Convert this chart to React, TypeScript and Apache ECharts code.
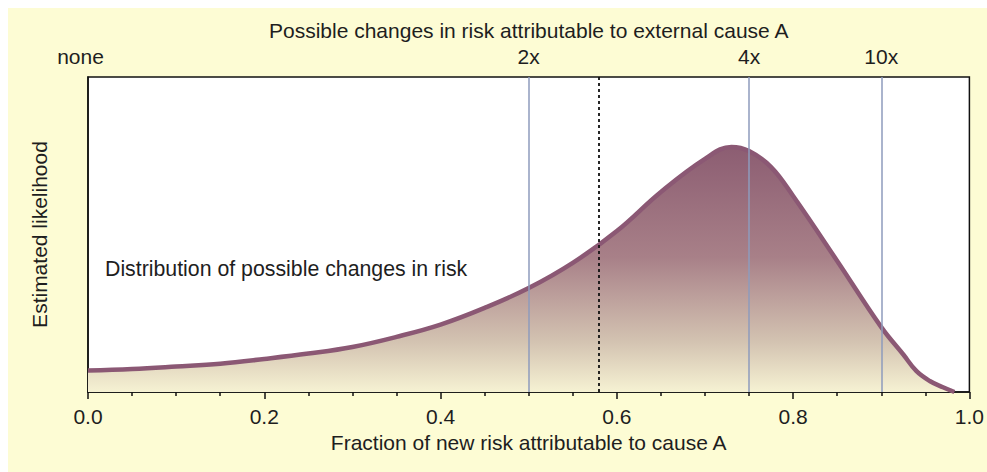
import React, { useEffect, useRef } from "react";
import * as echarts from "echarts";

const fractionX = [0, 0.05, 0.1, 0.15, 0.2, 0.25, 0.3, 0.35, 0.4, 0.45, 0.5, 0.55, 0.6, 0.65, 0.7, 0.73, 0.75, 0.775, 0.8, 0.85, 0.9, 0.925, 0.94, 0.955, 0.97, 0.983];
const likelihood = [6.8, 7.3, 8.1, 9.0, 10.5, 12.2, 14.3, 17.5, 21.4, 26.7, 33.0, 41.0, 51.1, 63.5, 74.0, 77.8, 76.5, 71.4, 62.2, 41.6, 20.6, 11.9, 6.6, 3.5, 1.5, 0];

const topTickValues = [0, 0.5, 0.75, 0.9];
const topTickLabels = ["none", "2x", "4x", "10x"];
const bottomTickValues = [0, 0.2, 0.4, 0.6, 0.8, 1.0];

const solidRefLines = [0.5, 0.75, 0.9];
const meanLiability = 0.576;

const FONT = "'Liberation Sans', Arial, sans-serif";
const TXT = "#1e1e1e";

export default function App() {
  const ref = useRef<HTMLDivElement>(null);
  useEffect(() => {
    if (!ref.current) return;
    const chart = echarts.init(ref.current, undefined, { renderer: "svg" });
    const data = fractionX.map((x, i) => [x, likelihood[i]]);
    chart.setOption({
      animation: false,
      backgroundColor: "#fdfcd4",
      textStyle: { fontFamily: FONT },
      grid: {
        left: 80,
        right: 14,
        top: 69,
        bottom: 80,
        show: true,
        backgroundColor: "#ffffff",
        borderColor: "#111",
        borderWidth: 1.5,
      },
      xAxis: [
        {
          type: "value",
          position: "bottom",
          min: 0,
          max: 1,
          interval: 0.2,
          name: "Fraction of new risk attributable to cause A",
          nameLocation: "middle",
          nameGap: 39,
          nameTextStyle: { fontSize: 21, color: TXT, fontFamily: FONT },
          axisLine: { show: true, lineStyle: { color: "#111", width: 1.5 } },
          axisTick: { show: true, length: 7, lineStyle: { color: "#111", width: 1.5 } },
          minorTick: { show: true, splitNumber: 4, length: 4, lineStyle: { color: "#111", width: 1.5 } },
          splitLine: { show: false },
          axisLabel: {
            margin: 14,
            fontSize: 21,
            color: TXT,
            fontFamily: FONT,
            customValues: bottomTickValues,
            formatter: (v: number) => v.toFixed(1),
          },
        },
        {
          type: "value",
          position: "top",
          min: 0,
          max: 1,
          name: "Possible changes in risk attributable to external cause A",
          nameLocation: "middle",
          nameGap: 35,
          nameTextStyle: { fontSize: 21, color: TXT, fontFamily: FONT },
          axisLine: { show: false },
          axisTick: { show: false },
          splitLine: { show: false },
          axisLabel: {
            margin: 10,
            fontSize: 21,
            color: TXT,
            fontFamily: FONT,
            customValues: topTickValues,
            formatter: (v: number) => {
              const i = topTickValues.findIndex((t) => Math.abs(t - v) < 1e-6);
              if (i < 0) return "";
              return i === 0 ? "{n|" + topTickLabels[i] + "}" : topTickLabels[i];
            },
            rich: {
              n: { fontSize: 21, color: TXT, fontFamily: FONT, padding: [0, 15, 0, 0] },
            },
          },
        },
      ],
      yAxis: {
        type: "value",
        min: 0,
        max: 100,
        name: "Estimated likelihood",
        nameLocation: "middle",
        nameGap: 38,
        nameTextStyle: { fontSize: 21, color: TXT, fontFamily: FONT },
        axisLine: { show: true, lineStyle: { color: "#111", width: 1.5 } },
        axisTick: { show: false },
        axisLabel: { show: false },
        splitLine: { show: false },
      },
      series: [
        {
          type: "line",
          xAxisIndex: 0,
          data,
          smooth: 0.4,
          showSymbol: false,
          lineStyle: { color: "#8b5874", width: 4.5 },
          areaStyle: {
            opacity: 1,
            color: new echarts.graphic.LinearGradient(0, 0, 0, 1, [
              { offset: 0, color: "#8c5d72" },
              { offset: 0.45, color: "#a88088" },
              { offset: 0.8, color: "#d4c4b2" },
              { offset: 1, color: "#f6f2d3" },
            ]),
          },
          markLine: {
            silent: true,
            symbol: ["none", "none"],
            label: { show: false },
            data: [
              ...solidRefLines.map((v) => ({ xAxis: v, lineStyle: { color: "#8e9bbd", width: 1.5, type: "solid" } })),
              { xAxis: meanLiability, lineStyle: { color: "#111", width: 1.8, type: [3, 3] } },
            ],
          },
          z: 2,
        },
      ],
      graphic: [
        {
          type: "text",
          left: 97,
          top: 250,
          style: {
            text: "Distribution of possible changes in risk",
            fontSize: 21.3,
            fill: TXT,
            fontFamily: FONT,
          },
        },
        {
          type: "text",
          left: 599,
          top: 291,
          style: {
            text: "Mean\nlikelihood-weighted\nliability",
            fontSize: 21,
            lineHeight: 26,
            fill: TXT,
            fontFamily: FONT,
          },
        },
      ],
    });
    return () => chart.dispose();
  }, []);
  return (
    <div
      ref={ref}
      style={{ position: "absolute", left: 8, top: 8, width: 979, height: 464 }}
    />
  );
}
